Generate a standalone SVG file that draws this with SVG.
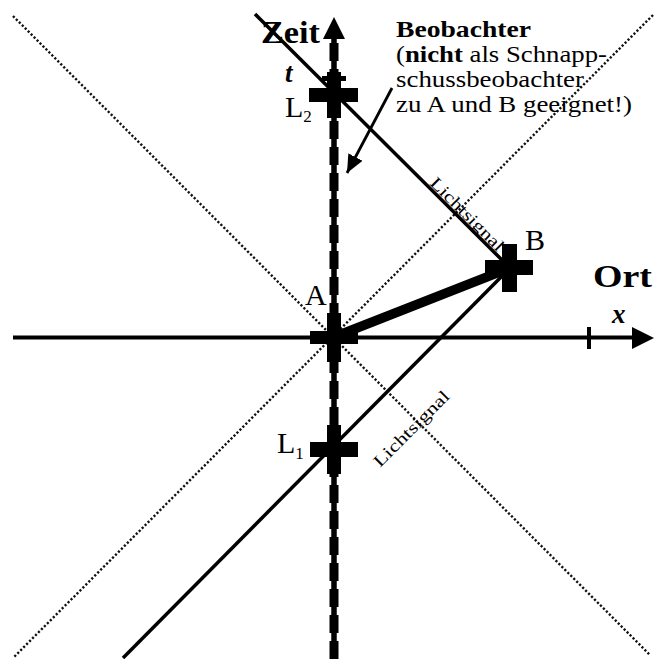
<svg xmlns="http://www.w3.org/2000/svg" width="658" height="659" viewBox="0 0 658 659" font-family="'Liberation Serif', 'Times New Roman', Tinos, Times, serif">
<defs>
<style>
.dot{stroke:#111;stroke-width:2.4;stroke-dasharray:2.2 2;fill:none}
.sig{stroke:#000;stroke-width:3.5;fill:none}
.ax{stroke:#000;stroke-width:4;fill:none}
.blk{fill:#000}
.b{font-weight:bold}
.lab{font-size:30px}
.big{font-size:32px}
.sm{font-size:17px}
.note{font-size:23px}
</style>
<marker id="ah" markerUnits="userSpaceOnUse" markerWidth="20" markerHeight="16" refX="18" refY="8" orient="auto">
<path d="M0,0 L18,8 L0,16 Z" fill="#000"/>
</marker>
</defs>
<rect width="658" height="659" fill="#fff"/>
<g id="connectors">
<line class="dot" x1="13" y1="16" x2="650" y2="655"/>
<line class="dot" x1="653" y1="15" x2="13" y2="658"/>
<line class="ax" x1="13" y1="337.5" x2="634" y2="337.5"/>
<path class="blk" d="M632,327 L654,338 L632,349 Z"/>
<line stroke="#000" stroke-width="5.5" x1="334" y1="659" x2="334" y2="36"/>
<path class="blk" d="M334,17 L345,39 L323,39 Z"/>
<line stroke="#000" stroke-width="9" stroke-dasharray="18 8" x1="334" y1="659" x2="334" y2="40"/>
<line class="sig" x1="255" y1="14" x2="510" y2="268"/>
<line class="sig" x1="510" y1="268" x2="123" y2="658"/>
<line stroke="#000" stroke-width="9.5" x1="334" y1="337" x2="510" y2="268"/>
<line stroke="#000" stroke-width="2.8" x1="392" y1="88" x2="347" y2="173" marker-end="url(#ah)"/>
<rect class="blk" x="587" y="327" width="4" height="22"/>
<rect class="blk" x="322" y="76" width="24" height="5"/>
</g>
<g id="A">
<rect class="blk" x="310" y="331" width="48" height="13"/>
<rect class="blk" x="327" y="313" width="14" height="49"/>
<text class="lab" x="305" y="305">A</text>
</g>
<g id="B">
<rect class="blk" x="485" y="260" width="48" height="15"/>
<rect class="blk" x="502" y="244" width="15" height="48"/>
<text class="lab" x="525" y="250">B</text>
</g>
<g id="L2">
<rect class="blk" x="309" y="88" width="49" height="14"/>
<rect class="blk" x="327" y="72" width="14" height="46"/>
<text class="lab" x="285" y="117">L<tspan font-size="17" dy="5">2</tspan></text>
</g>
<g id="L1">
<rect class="blk" x="310" y="442" width="48" height="15"/>
<rect class="blk" x="327" y="425" width="14" height="49"/>
<text class="lab" x="277" y="453">L<tspan font-size="17" dy="6">1</tspan></text>
</g>
<g id="axis-labels">
<text class="big b" x="261" y="43" textLength="59" lengthAdjust="spacingAndGlyphs">Zeit</text>
<text class="b" font-style="italic" font-size="27" x="285" y="82">t</text>
<text class="big b" x="593" y="287" textLength="59" lengthAdjust="spacingAndGlyphs">Ort</text>
<text class="b" font-style="italic" font-size="27" x="612" y="323">x</text>
</g>
<g id="signal-labels">
<text class="sm" transform="translate(429,184) rotate(45)" textLength="97" lengthAdjust="spacingAndGlyphs">Lichtsignal</text>
<text class="sm" transform="translate(380,468) rotate(-45)" textLength="100" lengthAdjust="spacingAndGlyphs">Lichtsignal</text>
</g>
<g id="observer-note">
<text class="note b" x="396" y="37" textLength="135" lengthAdjust="spacingAndGlyphs">Beobachter</text>
<text class="note" x="396" y="62" textLength="211" lengthAdjust="spacingAndGlyphs">(<tspan class="b">nicht</tspan> als Schnapp-</text>
<text class="note" x="396" y="87" textLength="188" lengthAdjust="spacingAndGlyphs">schussbeobachter</text>
<text class="note" x="396" y="112" textLength="236" lengthAdjust="spacingAndGlyphs">zu A und B geeignet!)</text>
</g>
</svg>
